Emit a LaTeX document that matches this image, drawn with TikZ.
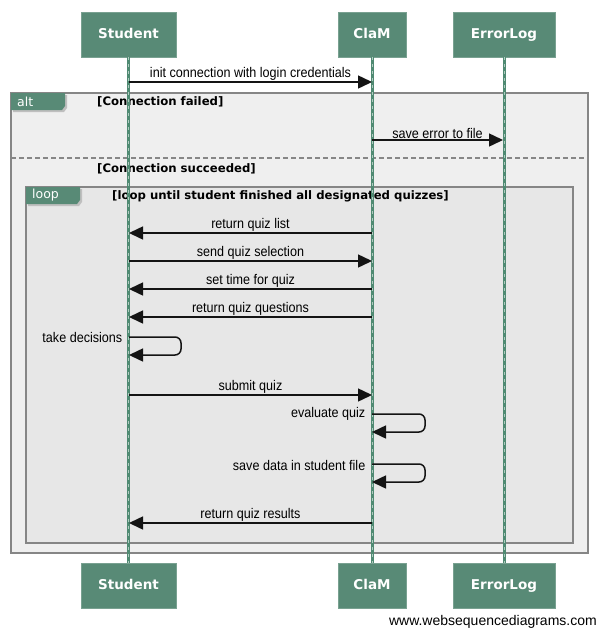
\documentclass[tikz,border=0pt]{standalone}
\usepackage{fontspec}
\usetikzlibrary{arrows.meta}
\newfontfamily\msgfont[FakeStretch=0.9]{Liberation Sans}
\newfontfamily\wmfont{Liberation Sans}
\newfontfamily\hdfont{DejaVu Sans}
\definecolor{hdfill}{HTML}{588A76}
\definecolor{lifeg}{HTML}{4F8A72}
\definecolor{frameline}{HTML}{868686}
\definecolor{altfill}{HTML}{EFEFEF}
\definecolor{loopfill}{HTML}{E7E7E7}
\tikzset{
  actor/.style={fill=hdfill, draw=hdfill!80!white, line width=0.6pt, text=white,
    font=\hdfont\bfseries\fontsize{13.5}{15}\selectfont, inner sep=0pt,
    text height=10pt, text depth=2.5pt},
  msg/.style={line width=1.5pt, draw=black!92, -{Triangle[length=14pt,width=13pt]}},
  lbl/.style={font=\msgfont\fontsize{14}{16}\selectfont, inner sep=0.5pt},
  frm/.style={draw=frameline, line width=1.6pt},
  guard/.style={font=\hdfont\bfseries\fontsize{11.7}{13}\selectfont, anchor=west, inner sep=0pt},
  tabtxt/.style={font=\hdfont\fontsize{12.5}{14}\selectfont, text=white, anchor=west, inner sep=0pt},
  lifebase/.style={line width=3pt, draw=lifeg},
  lifedash/.style={line width=1pt, draw=lifeg!45!white, dash pattern=on 3pt off 4pt}
}
\begin{document}
\begin{tikzpicture}[x=1pt,y=-1pt]
\useasboundingbox[fill=white] (0,0) rectangle (598,630);

% frames
\path[frm, fill=altfill] (11,93) rectangle (588,553);
\draw[frameline, line width=1.2pt, dash pattern=on 5pt off 3pt] (11,158) -- (588,158);
\path[frm, fill=loopfill] (26,187) rectangle (573,543);

% tabs
\fill[black!25] (13,95) -- (67,95) -- (67,108) -- (64,112) -- (13,112) -- cycle;
\fill[hdfill] (11,93) -- (65,93) -- (65,106) -- (62,110) -- (11,110) -- cycle;
\node[tabtxt] (alttab) at (17,101.5) {alt};
\fill[black!25] (28,189) -- (82,189) -- (82,202) -- (79,206) -- (28,206) -- cycle;
\fill[hdfill] (26,187) -- (80,187) -- (80,200) -- (77,204) -- (26,204) -- cycle;
\node[tabtxt] (looptab) at (32,195.5) {loop};

\node[guard] (g1) at (97,102) {[Connection failed]};
\node[guard] (g2) at (97,169) {[Connection succeeded]};
\node[guard] (g3) at (112,196) {[loop until student finished all designated quizzes]};

% actors
\node[actor, minimum width=95pt, minimum height=45pt] (sTop) at (128.5,34.5) {Student};
\node[actor, minimum width=68pt, minimum height=45pt] (cTop) at (372,34.5) {ClaM};
\node[actor, minimum width=102pt, minimum height=45pt] (eTop) at (504,34.5) {ErrorLog};
\node[actor, minimum width=95pt, minimum height=45pt] (sBot) at (128.5,585.5) {Student};
\node[actor, minimum width=68pt, minimum height=45pt] (cBot) at (372,585.5) {ClaM};
\node[actor, minimum width=102pt, minimum height=45pt] (eBot) at (504,585.5) {ErrorLog};

% lifelines
\foreach \a/\b in {sTop/sBot, cTop/cBot, eTop/eBot}{
  \draw[lifebase] (\a.south) -- (\b.north);
  \draw[lifedash] (\a.south) -- (\b.north);
}

% message coordinates
\coordinate (s1) at (129,82);  \coordinate (c1) at (372,82);
\coordinate (c2) at (372,140); \coordinate (e2) at (503,140);
\coordinate (s3) at (129,233); \coordinate (c3) at (372,233);
\coordinate (s4) at (129,261); \coordinate (c4) at (372,261);
\coordinate (s5) at (129,289); \coordinate (c5) at (372,289);
\coordinate (s6) at (129,317); \coordinate (c6) at (372,317);
\coordinate (s7a) at (129,337); \coordinate (s7b) at (129,355);
\coordinate (s8) at (129,395); \coordinate (c8) at (372,395);
\coordinate (c9a) at (372,414); \coordinate (c9b) at (372,432);
\coordinate (c10a) at (372,464); \coordinate (c10b) at (372,482);
\coordinate (s11) at (129,523); \coordinate (c11) at (372,523);

\draw[msg] (s1) -- node[lbl, above] {init connection with login credentials} (c1);
\draw[msg] (c2) -- node[lbl, above] {save error to file} (e2);
\draw[msg] (c3) -- node[lbl, above] {return quiz list} (s3);
\draw[msg] (s4) -- node[lbl, above] {send quiz selection} (c4);
\draw[msg] (c5) -- node[lbl, above] {set time for quiz} (s5);
\draw[msg] (c6) -- node[lbl, above] {return quiz questions} (s6);
\draw[msg, rounded corners=6pt] (s7a) -- ++(52,0) -- ++(0,18) -- (s7b);
\node[lbl, anchor=east] (t7) at (123,337) {take decisions};
\draw[msg] (s8) -- node[lbl, above] {submit quiz} (c8);
\draw[msg, rounded corners=6pt] (c9a) -- ++(53,0) -- ++(0,18) -- (c9b);
\node[lbl, anchor=east] (t9) at (366,414) {evaluate quiz};
\draw[msg, rounded corners=6pt] (c10a) -- ++(53,0) -- ++(0,18) -- (c10b);
\node[lbl, anchor=east] (t10) at (366,465) {save data in student file};
\draw[msg] (c11) -- node[lbl, above] {return quiz results} (s11);

\node[font=\wmfont\fontsize{14}{16}\selectfont, anchor=east, inner sep=0pt] (wm) at (597,622) {www.websequencediagrams.com};
\end{tikzpicture}
\end{document}
